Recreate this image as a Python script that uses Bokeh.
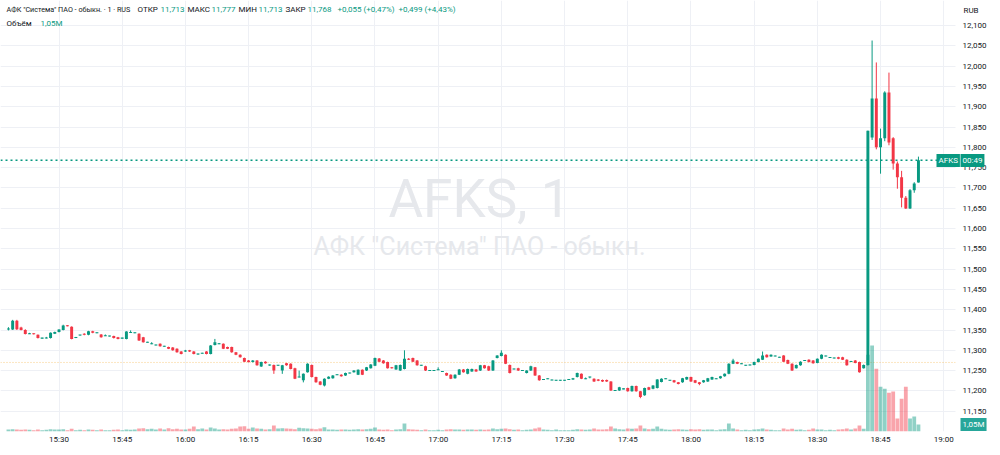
from bokeh.plotting import figure
from bokeh.models import (Range1d, FixedTicker, CustomJSTickFormatter, Span, Label,
                          ColumnDataSource, BoxAnnotation)
from bokeh.embed import file_html
from bokeh.resources import INLINE

# ---------------- data ----------------
first_minute = -12          # minutes relative to 15:30 (first candle 15:18)

opens = [
    11.352, 11.351, 11.373, 11.356, 11.350, 11.341, 11.341, 11.338, 11.330, 11.330, 11.330, 11.341,
    11.345, 11.350, 11.361, 11.358, 11.331, 11.337, 11.341, 11.338, 11.347, 11.343, 11.339, 11.336,
    11.335, 11.335, 11.332, 11.330, 11.328, 11.344, 11.343, 11.341, 11.332, 11.320, 11.316, 11.313,
    11.316, 11.310, 11.308, 11.307, 11.304, 11.297, 11.297, 11.300, 11.297, 11.291, 11.293, 11.297,
    11.291, 11.313, 11.316, 11.316, 11.308, 11.308, 11.295, 11.289, 11.281, 11.275, 11.271, 11.275,
    11.260, 11.272, 11.264, 11.264, 11.263, 11.250, 11.268, 11.267, 11.256, 11.234, 11.226, 11.246,
    11.264, 11.234, 11.223, 11.213, 11.230, 11.231, 11.240, 11.240, 11.238, 11.244, 11.246, 11.240,
    11.252, 11.250, 11.256, 11.262, 11.280, 11.275, 11.271, 11.258, 11.253, 11.250, 11.254, 11.279,
    11.281, 11.275, 11.263, 11.261, 11.250, 11.250, 11.252, 11.248, 11.244, 11.240, 11.231, 11.240,
    11.253, 11.242, 11.248, 11.253, 11.250, 11.263, 11.261, 11.250, 11.281, 11.286, 11.289, 11.264,
    11.254, 11.256, 11.250, 11.244, 11.250, 11.258, 11.238, 11.228, 11.230, 11.227, 11.226, 11.226,
    11.226, 11.228, 11.228, 11.234, 11.242, 11.230, 11.234, 11.230, 11.228, 11.227, 11.227, 11.223,
    11.201, 11.201, 11.205, 11.207, 11.199, 11.212, 11.199, 11.189, 11.209, 11.205, 11.207, 11.222,
    11.230, 11.226, 11.226, 11.221, 11.221, 11.228, 11.234, 11.226, 11.221, 11.221, 11.223, 11.228,
    11.230, 11.231, 11.236, 11.242, 11.267, 11.271, 11.267, 11.263, 11.264, 11.264, 11.271, 11.277,
    11.289, 11.285, 11.286, 11.283, 11.287, 11.276, 11.267, 11.256, 11.263, 11.275, 11.277, 11.275,
    11.269, 11.279, 11.286, 11.282, 11.281, 11.283, 11.283, 11.277, 11.272, 11.275, 11.271, 11.256,
    11.264, 11.824, 11.920, 11.800, 11.822, 11.935, 11.822, 11.760, 11.726, 11.676, 11.649, 11.694, 11.713,
]
highs = [
    11.357, 11.375, 11.375, 11.358, 11.352, 11.343, 11.342, 11.339, 11.331, 11.333, 11.344, 11.346,
    11.352, 11.363, 11.362, 11.359, 11.333, 11.338, 11.342, 11.348, 11.348, 11.344, 11.340, 11.339,
    11.336, 11.336, 11.333, 11.331, 11.347, 11.349, 11.344, 11.342, 11.333, 11.321, 11.320, 11.314,
    11.317, 11.311, 11.309, 11.308, 11.305, 11.298, 11.301, 11.301, 11.298, 11.292, 11.294, 11.298,
    11.313, 11.328, 11.318, 11.317, 11.309, 11.309, 11.296, 11.290, 11.282, 11.276, 11.276, 11.276,
    11.272, 11.273, 11.265, 11.265, 11.264, 11.264, 11.269, 11.268, 11.257, 11.250, 11.243, 11.268,
    11.265, 11.235, 11.224, 11.231, 11.236, 11.239, 11.241, 11.241, 11.245, 11.245, 11.251, 11.253,
    11.253, 11.259, 11.266, 11.282, 11.281, 11.276, 11.272, 11.259, 11.264, 11.265, 11.300, 11.281,
    11.282, 11.276, 11.264, 11.262, 11.251, 11.251, 11.258, 11.249, 11.245, 11.241, 11.241, 11.254,
    11.254, 11.255, 11.255, 11.254, 11.264, 11.264, 11.262, 11.276, 11.288, 11.300, 11.290, 11.265,
    11.255, 11.257, 11.251, 11.251, 11.262, 11.259, 11.239, 11.229, 11.231, 11.228, 11.227, 11.227,
    11.227, 11.229, 11.232, 11.245, 11.243, 11.233, 11.235, 11.231, 11.229, 11.228, 11.228, 11.224,
    11.202, 11.210, 11.206, 11.208, 11.213, 11.213, 11.200, 11.208, 11.210, 11.214, 11.229, 11.231,
    11.231, 11.227, 11.227, 11.222, 11.232, 11.235, 11.235, 11.227, 11.222, 11.227, 11.232, 11.235,
    11.231, 11.237, 11.243, 11.268, 11.279, 11.272, 11.268, 11.264, 11.265, 11.272, 11.280, 11.297,
    11.290, 11.290, 11.287, 11.284, 11.288, 11.277, 11.268, 11.265, 11.273, 11.276, 11.278, 11.276,
    11.280, 11.290, 11.287, 11.283, 11.282, 11.284, 11.284, 11.278, 11.274, 11.276, 11.272, 11.265,
    11.841, 12.063, 12.009, 11.846, 11.938, 11.984, 11.825, 11.765, 11.742, 11.680, 11.697, 11.714, 11.777,
]
lows = [
    11.349, 11.350, 11.350, 11.349, 11.339, 11.340, 11.339, 11.329, 11.329, 11.329, 11.329, 11.340,
    11.344, 11.349, 11.359, 11.327, 11.330, 11.336, 11.337, 11.337, 11.342, 11.342, 11.331, 11.335,
    11.334, 11.329, 11.327, 11.329, 11.327, 11.343, 11.342, 11.323, 11.319, 11.319, 11.315, 11.312,
    11.309, 11.309, 11.303, 11.299, 11.294, 11.290, 11.296, 11.296, 11.290, 11.289, 11.292, 11.290,
    11.290, 11.312, 11.315, 11.303, 11.303, 11.294, 11.288, 11.282, 11.271, 11.270, 11.270, 11.262,
    11.259, 11.267, 11.262, 11.242, 11.262, 11.242, 11.262, 11.253, 11.229, 11.233, 11.221, 11.245,
    11.233, 11.220, 11.214, 11.211, 11.229, 11.230, 11.239, 11.235, 11.237, 11.243, 11.245, 11.239,
    11.239, 11.249, 11.255, 11.261, 11.271, 11.267, 11.255, 11.255, 11.252, 11.249, 11.253, 11.276,
    11.271, 11.262, 11.262, 11.249, 11.249, 11.249, 11.251, 11.247, 11.237, 11.229, 11.230, 11.239,
    11.245, 11.241, 11.247, 11.247, 11.249, 11.255, 11.249, 11.249, 11.280, 11.285, 11.266, 11.243,
    11.253, 11.249, 11.249, 11.243, 11.249, 11.237, 11.225, 11.227, 11.229, 11.226, 11.225, 11.225,
    11.225, 11.227, 11.227, 11.233, 11.229, 11.229, 11.231, 11.222, 11.224, 11.222, 11.222, 11.200,
    11.200, 11.200, 11.204, 11.198, 11.198, 11.198, 11.182, 11.188, 11.202, 11.204, 11.206, 11.221,
    11.229, 11.225, 11.220, 11.216, 11.220, 11.227, 11.222, 11.219, 11.214, 11.220, 11.222, 11.227,
    11.229, 11.230, 11.235, 11.241, 11.266, 11.266, 11.266, 11.262, 11.263, 11.263, 11.270, 11.276,
    11.282, 11.284, 11.285, 11.282, 11.271, 11.266, 11.249, 11.255, 11.262, 11.274, 11.270, 11.267,
    11.268, 11.278, 11.285, 11.281, 11.280, 11.278, 11.276, 11.262, 11.271, 11.268, 11.245, 11.255,
    11.262, 11.818, 11.795, 11.735, 11.815, 11.805, 11.745, 11.698, 11.652, 11.648, 11.648, 11.688, 11.713,
]
closes = [
    11.353, 11.373, 11.352, 11.350, 11.340, 11.341, 11.340, 11.330, 11.330, 11.331, 11.343, 11.345,
    11.351, 11.361, 11.360, 11.328, 11.332, 11.338, 11.338, 11.347, 11.343, 11.343, 11.332, 11.336,
    11.335, 11.330, 11.328, 11.330, 11.346, 11.344, 11.343, 11.324, 11.320, 11.320, 11.316, 11.313,
    11.310, 11.310, 11.304, 11.300, 11.295, 11.291, 11.299, 11.297, 11.291, 11.291, 11.293, 11.291,
    11.312, 11.320, 11.316, 11.304, 11.304, 11.295, 11.289, 11.283, 11.272, 11.271, 11.275, 11.263,
    11.271, 11.268, 11.264, 11.250, 11.263, 11.263, 11.263, 11.254, 11.230, 11.234, 11.242, 11.267,
    11.234, 11.221, 11.215, 11.230, 11.235, 11.238, 11.240, 11.236, 11.244, 11.244, 11.250, 11.252,
    11.240, 11.258, 11.265, 11.281, 11.272, 11.268, 11.256, 11.256, 11.263, 11.264, 11.279, 11.277,
    11.272, 11.263, 11.263, 11.250, 11.250, 11.250, 11.252, 11.248, 11.238, 11.230, 11.240, 11.253,
    11.246, 11.254, 11.254, 11.248, 11.263, 11.256, 11.250, 11.275, 11.287, 11.294, 11.267, 11.244,
    11.254, 11.250, 11.250, 11.250, 11.261, 11.238, 11.226, 11.228, 11.230, 11.227, 11.226, 11.226,
    11.226, 11.228, 11.231, 11.244, 11.230, 11.230, 11.234, 11.223, 11.225, 11.223, 11.223, 11.201,
    11.201, 11.209, 11.205, 11.199, 11.212, 11.199, 11.185, 11.207, 11.203, 11.213, 11.228, 11.230,
    11.230, 11.226, 11.221, 11.217, 11.231, 11.234, 11.223, 11.220, 11.217, 11.226, 11.231, 11.234,
    11.230, 11.236, 11.242, 11.267, 11.275, 11.267, 11.267, 11.263, 11.264, 11.271, 11.279, 11.287,
    11.283, 11.289, 11.286, 11.283, 11.272, 11.267, 11.250, 11.264, 11.272, 11.275, 11.271, 11.268,
    11.279, 11.289, 11.286, 11.282, 11.281, 11.279, 11.277, 11.263, 11.273, 11.269, 11.246, 11.264,
    11.841, 11.920, 11.800, 11.822, 11.935, 11.812, 11.760, 11.726, 11.676, 11.649, 11.694, 11.711, 11.768,
]
volumes_m = [
    0.30, 0.35, 0.30, 0.25, 0.30, 0.25, 0.20, 0.30, 0.20, 0.25, 0.35, 0.30,
    0.30, 0.35, 0.20, 0.40, 0.20, 0.25, 0.20, 0.30, 0.25, 0.20, 0.30, 0.20,
    0.20, 0.25, 0.30, 0.20, 0.30, 0.25, 0.30, 0.45, 0.50, 0.35, 0.40, 0.30,
    0.45, 0.30, 0.50, 0.35, 0.40, 0.30, 0.30, 0.40, 0.75, 0.35, 0.45, 0.30,
    0.60, 0.45, 0.30, 0.35, 0.30, 0.40, 0.45, 0.75, 0.80, 0.40, 0.60, 0.45,
    0.40, 0.30, 0.35, 0.90, 0.45, 0.50, 0.45, 0.40, 0.35, 0.55, 0.50, 0.45,
    0.40, 0.35, 0.45, 0.65, 0.30, 0.30, 0.25, 0.30, 0.30, 0.25, 0.30, 0.35,
    0.30, 0.35, 0.40, 0.60, 0.30, 0.25, 0.30, 0.20, 0.30, 0.35, 1.20, 0.35,
    0.30, 0.25, 0.20, 0.30, 0.20, 0.20, 0.25, 0.20, 0.30, 0.35, 0.30, 0.30,
    0.25, 0.30, 0.30, 0.25, 0.30, 0.25, 0.30, 0.45, 0.35, 0.40, 0.45, 0.35,
    0.25, 0.30, 0.20, 0.25, 0.30, 0.45, 0.60, 0.30, 0.25, 0.20, 0.30, 0.20,
    0.20, 0.20, 0.25, 0.35, 0.30, 0.25, 0.30, 0.45, 0.30, 0.30, 0.35, 0.75,
    0.45, 0.35, 0.30, 0.45, 0.40, 0.45, 0.90, 0.45, 0.35, 0.40, 0.75, 0.40,
    0.30, 0.25, 0.30, 0.35, 0.30, 0.25, 0.35, 0.30, 0.35, 0.25, 0.30, 0.30,
    0.20, 0.30, 0.35, 1.20, 0.45, 0.30, 0.20, 0.25, 0.20, 0.30, 0.35, 0.45,
    0.30, 0.25, 0.20, 0.20, 0.45, 0.30, 0.40, 0.25, 0.30, 0.20, 0.25, 0.45,
    0.30, 0.30, 0.20, 0.25, 0.20, 0.30, 0.35, 0.45, 0.30, 0.45, 0.90, 0.40,
    11.5, 12.9, 9.4, 6.7, 6.4, 5.8, 6.0, 1.95, 4.9, 6.7, 1.95, 2.25, 1.05,
]
minutes = list(range(first_minute, first_minute + len(opens)))

time_tick_labels = ["15:30", "15:45", "16:00", "16:15", "16:30", "16:45", "17:00", "17:15",
                    "17:30", "17:45", "18:00", "18:15", "18:30", "18:45", "19:00"]
price_ticks = [12.10, 12.05, 12.00, 11.95, 11.90, 11.85, 11.80, 11.75, 11.70, 11.65,
               11.60, 11.55, 11.50, 11.45, 11.40, 11.35, 11.30, 11.25, 11.20, 11.15]
last_close = 11.768
prev_close = 11.270
legend_name = 'АФК "Система" ПАО - обыкн. · 1 · RUS'
legend_values = [("ОТКР", "11,713"), ("МАКС", "11,777"), ("МИН", "11,713"), ("ЗАКР", "11,768")]
change_abs = "+0,055 (+0,47%)"
change_day = "+0,499 (+4,43%)"
volume_label = "1,05M"
countdown = "00:49"
watermark_1 = "AFKS, 1"
watermark_2 = 'АФК "Система" ПАО - обыкн.'

# ---------------- style / layout ----------------
UP = "#089981"
DOWN = "#f23645"
TEXT = "#131722"
FONT = "Roboto"
FS = "8px"

PX_PER_MIN = 4.213
PX_PER_RUB = 406.0
CANVAS_W = 1000
FRAME_H = 431
PANE_RIGHT = 955            # right edge of the price pane
X0 = -58.5 / PX_PER_MIN     # minute value at the canvas left edge
Y_TOP = 12.1 + 25 / PX_PER_RUB
Y_BOT = Y_TOP - FRAME_H / PX_PER_RUB
VOL_PX_PER_M = 6.67


def px2x(x):
    return X0 + x / PX_PER_MIN


def px2y(y):
    return 12.1 - (y - 25) / PX_PER_RUB


colors = [UP if c >= o else DOWN for o, c in zip(opens, closes)]
body_top, body_bot = [], []
for o, c in zip(opens, closes):
    hi, lo = max(o, c), min(o, c)
    if hi - lo < 0.0025:
        mid = (hi + lo) / 2
        hi, lo = mid + 0.00125, mid - 0.00125
    body_top.append(hi)
    body_bot.append(lo)

src = ColumnDataSource(dict(t=minutes, o=opens, h=highs, l=lows, c=closes,
                            bt=body_top, bb=body_bot, col=colors, v=volumes_m))

p = figure(frame_width=CANVAS_W, frame_height=FRAME_H,
           x_range=Range1d(X0, px2x(CANVAS_W)),
           y_range=Range1d(Y_BOT, Y_TOP),
           y_axis_location="right",
           output_backend="svg", toolbar_location=None,
           min_border_left=0, min_border_top=0, min_border_right=0, min_border_bottom=24,
           background_fill_color="white", border_fill_color="white")
p.outline_line_color = None
p.extra_y_ranges = {"vol": Range1d(0, FRAME_H / VOL_PX_PER_M)}

# axes
p.xaxis.ticker = FixedTicker(ticks=[15 * i for i in range(len(time_tick_labels))])
p.xaxis.major_label_overrides = {15 * i: lab for i, lab in enumerate(time_tick_labels)}
p.yaxis.ticker = FixedTicker(ticks=price_ticks)
p.yaxis.formatter = CustomJSTickFormatter(code="return tick.toFixed(3).replace('.', ',');")
p.yaxis.fixed_location = px2x(PANE_RIGHT)
for ax in (p.xaxis[0], p.yaxis[0]):
    ax.axis_line_color = None
    ax.major_tick_line_color = None
    ax.minor_tick_line_color = None
    ax.major_tick_out = 0
    ax.major_tick_in = 0
    ax.major_label_text_font = FONT
    ax.major_label_text_font_size = FS
    ax.major_label_text_color = TEXT
p.xaxis.major_label_standoff = 3
p.yaxis.major_label_standoff = 7

p.xgrid.grid_line_color = "#eef0f5"
p.ygrid.grid_line_color = "#eef0f5"

# watermark
p.add_layout(Label(x=px2x(479), y=px2y(198), text=watermark_1, text_align="center",
                   text_baseline="middle", text_font=FONT, text_font_size="53px",
                   text_color="#e6e8ec", level="underlay"))
p.add_layout(Label(x=px2x(479), y=px2y(246), text=watermark_2, text_align="center",
                   text_baseline="middle", text_font=FONT, text_font_size="25px",
                   text_color="#e6e8ec", level="underlay"))

# reference lines
p.add_layout(Span(location=prev_close, dimension="width", line_color="#f5a623",
                  line_alpha=0.55, line_dash="1 2", line_width=1, level="underlay"))
p.add_layout(Span(location=last_close, dimension="width", line_color=UP,
                  line_dash="2 3", line_width=1.5, level="underlay"))

# white price-scale area (covers grid / lines right of the pane)
p.add_layout(BoxAnnotation(left=px2x(PANE_RIGHT), right=px2x(CANVAS_W), top=Y_TOP, bottom=Y_BOT,
                           fill_color="white", fill_alpha=1.0, line_color=None, level="underlay"))

# volume
p.vbar(x="t", width=0.9, top="v", bottom=0, source=src, y_range_name="vol",
       fill_color="col", fill_alpha=0.45, line_color=None)

# candles
p.segment(x0="t", y0="l", x1="t", y1="h", source=src, line_color="col", line_width=1)
p.vbar(x="t", width=0.7, top="bt", bottom="bb", source=src, fill_color="col", line_color=None)


def add_text(xpx, ypx, text, color, size=FS, bg=None):
    kw = dict(background_fill_color=bg, padding=2) if bg else {}
    p.add_layout(Label(x=px2x(xpx), y=px2y(ypx), text=text, text_font=FONT, text_font_size=size,
                       text_color=color, text_baseline="middle", text_align="left", **kw))


# legend texts
add_text(6, 9, legend_name, TEXT, size="7.2px")
positions = [(137, 160), (187, 211), (238, 258), (285, 307)]
for (lab, val), (xl, xv) in zip(legend_values, positions):
    add_text(xl, 9, lab, TEXT)
    add_text(xv, 9, val, UP)
add_text(337, 9, change_abs, UP)
add_text(398, 9, change_day, UP)
add_text(6, 23, "Объём", TEXT)
add_text(40, 23, volume_label, UP)

# price-scale texts
add_text(963, 10, "RUB", TEXT)
add_text(936, 160, "AFKS", "white", bg=UP)
add_text(960, 160, countdown, "white", bg=UP)
add_text(960, 424, volume_label, "white", bg="#26a69a")

open("out.html", "w").write(file_html(p, INLINE))
